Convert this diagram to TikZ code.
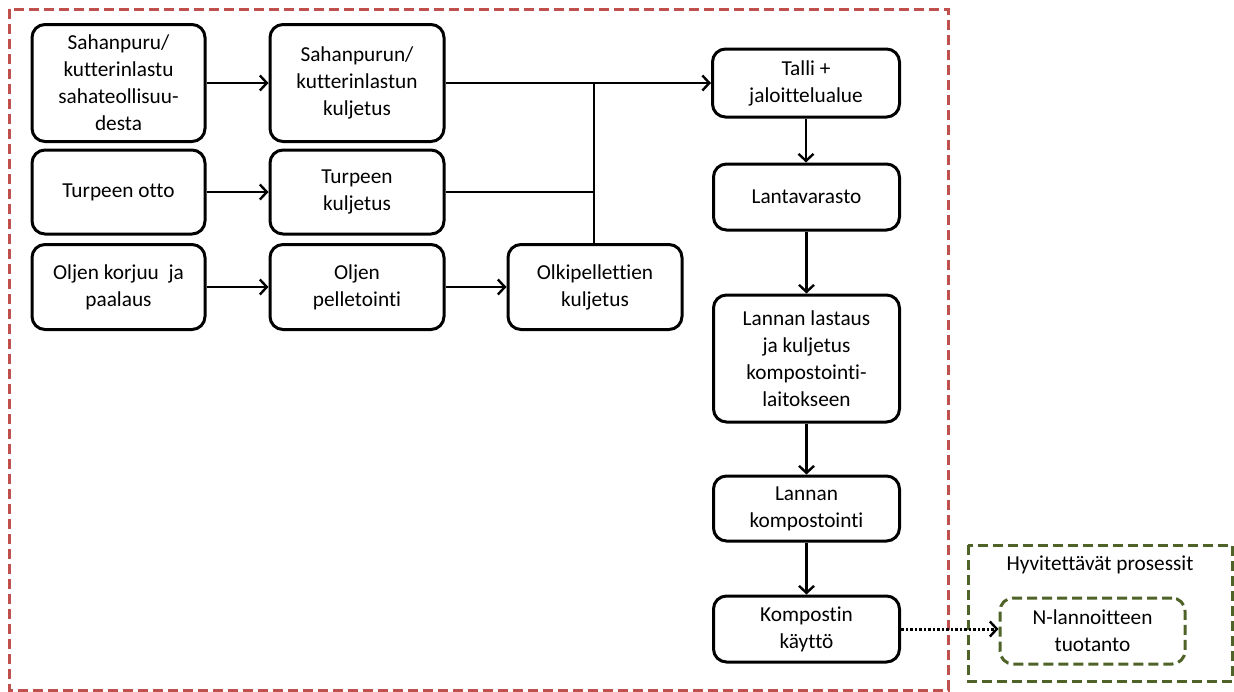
\documentclass[tikz,border=0pt]{standalone}
\usepackage{fontspec}
\setmainfont{Carlito}[Ligatures=NoCommon]
\usetikzlibrary{arrows.meta,calc}
\definecolor{redd}{RGB}{192,80,77}
\definecolor{greend}{RGB}{79,98,40}
\tikzset{
  box/.style={draw, line width=3pt, rounded corners=13pt, align=center, inner sep=2pt,
    font=\fontsize{21.3}{27}\selectfont},
  conn/.style={line width=2.4pt},
  tipb/.tip={Straight Barb[length=7pt,width=15pt,line width=2.4pt]},
  arr/.style={conn, -tipb},
}
\begin{document}
\begin{tikzpicture}[x=1pt,y=-1pt]
\useasboundingbox (0,0) rectangle (1234,691);
% frames
\draw[redd, line width=3pt, dash pattern=on 10pt off 5pt] (9,9) rectangle (948,690);
\draw[greend, line width=3pt, dash pattern=on 10pt off 5pt] (968,545) rectangle (1232,681);
\node[font=\fontsize{21.3}{27}\selectfont] (hyv) at (1100,565) {Hyvitettävät prosessit};
% nodes
\node[box, minimum width=173pt, minimum height=117pt] (a1) at (118.5,83) {Sahanpuru/\\kutterinlastu\\sahateollisuu-\\desta};
\node[box, minimum width=174pt, minimum height=117pt] (a2) at (357,83) {Sahanpurun/\\kutterinlastun\\kuljetus};
\node[box, minimum width=173pt, minimum height=84pt] (b1) at (118.5,192) {Turpeen otto};
\node[box, minimum width=174pt, minimum height=84pt] (b2) at (357,192) {Turpeen\\kuljetus};
\node[box, minimum width=173pt, minimum height=85pt] (c1) at (118.5,287) {Oljen korjuu\ \ ja\\paalaus};
\node[box, minimum width=174pt, minimum height=85pt] (c2) at (357,287) {Oljen\\pelletointi};
\node[box, minimum width=174pt, minimum height=85pt] (c3) at (595,287) {Olkipellettien\\kuljetus};
\node[box, minimum width=187pt, minimum height=68pt] (talli) at (806,83) {Talli +\\jaloittelualue};
\node[box, minimum width=186pt, minimum height=66pt] (lanta) at (806.5,197) {Lantavarasto};
\node[box, minimum width=186pt, minimum height=127pt] (last) at (806.5,358.5) {Lannan lastaus\\ja kuljetus\\kompostointi-\\laitokseen};
\node[box, minimum width=186pt, minimum height=65pt] (komp) at (806.5,508.5) {Lannan\\kompostointi};
\node[box, minimum width=186pt, minimum height=66pt] (kaytto) at (806.5,629) {Kompostin\\käyttö};
\node[box, draw=greend, dash pattern=on 10pt off 5pt, minimum width=185pt, minimum height=66pt] (nl) at (1092.5,631) {N-lannoitteen\\tuotanto};
% connectors
\coordinate (j) at (594,83);
\draw[arr] (a1.east) -- (a2.west);
\draw[arr] (b1.east) -- (b2.west);
\draw[arr] (c1.east) -- (c2.west);
\draw[arr] (c2.east) -- (c3.west);
\draw[arr] (a2.east) -- (talli.west);
\draw[conn] (b2.east) -- (j |- b2.east) -- (j);
\draw[conn] (c3.north -| j) -- (j);
\draw[arr] (talli.south) -- (talli.south |- lanta.north);
\draw[arr] (lanta.south) -- (last.north);
\draw[arr] (last.south) -- (komp.north);
\draw[arr] (komp.south) -- (kaytto.north);
\draw[line width=3pt, dash pattern=on 2.5pt off 2pt, -tipb] (kaytto.east) -- (nl.west |- kaytto.east);
\end{tikzpicture}
\end{document}
